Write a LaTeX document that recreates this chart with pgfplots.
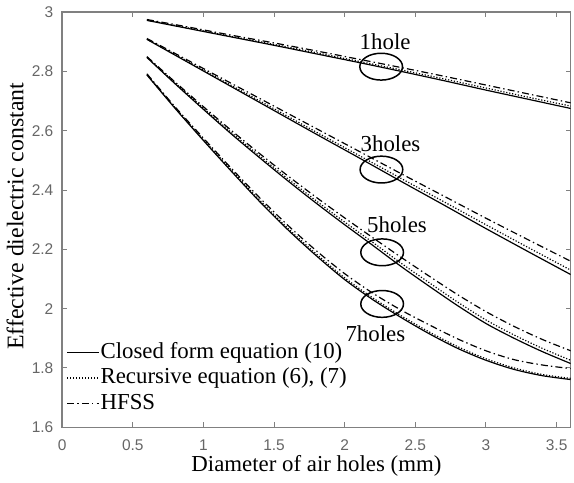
\documentclass[border=0pt]{standalone}
\usepackage{fontspec}
\setmainfont{Liberation Serif}
\newfontfamily\ticksfont{Liberation Sans}
\usepackage{pgfplots}
\pgfplotsset{compat=1.18}

\definecolor{axgray}{gray}{0.5}
\definecolor{tickgray}{gray}{0.4}

\tikzset{
  closed/.style={black, line width=0.6pt, smooth},
  recur/.style={black, line width=0.6pt, smooth, dash pattern=on 0.6pt off 0.9pt},
  hfss/.style={black, line width=0.6pt, smooth, dash pattern=on 3.5pt off 1.6pt on 0.7pt off 1.6pt},
}

\begin{document}
\begin{tikzpicture}
\begin{axis}[
  scale only axis,
  width=256pt, height=209pt,
  xmin=0, xmax=3.6, ymin=1.6, ymax=3,
  xtick={0,0.5,...,3.5},
  ytick={1.6,1.8,...,3.01},
  tick align=inside,
  major tick length=2.5pt,
  axis line style={axgray, line width=0.7pt},
  tick style={axgray, line width=0.5pt},
  /pgf/number format/assume math mode=true,
  tick label style={font=\ticksfont\fontsize{7.8}{9}\selectfont, text=tickgray},
  yticklabel style={xshift=-0.9pt},
  xticklabel style={yshift=-2.9pt},
  label style={font=\fontsize{11.5}{13}\selectfont},
  xlabel={Diameter of air holes (mm)},
  ylabel={Effective dielectric constant},
  xlabel style={at={(axis description cs:0.5,-0.1053)}, anchor=base},
  ylabel style={at={(axis description cs:-0.0762,0.508)}, anchor=base, font=\fontsize{12}{14}\selectfont},
  legend cell align=left,
  legend style={draw=none, fill=none, at={(rel axis cs:0.008,0.213)}, anchor=north west,
    font=\fontsize{11.5}{13}\selectfont, row sep=0pt, inner sep=0pt,
    nodes={inner sep=0.5pt, text height=9pt, text depth=3pt}},
  legend image code/.code={\draw[#1] (0pt,0pt) -- (16pt,0pt);},
]

% 1 hole
\addplot[closed] coordinates {(0.6,2.972) (0.9,2.944) (1.2,2.916) (1.5,2.888) (1.8,2.859) (2.1,2.830) (2.4,2.800) (2.7,2.769) (3.0,2.737) (3.3,2.706) (3.6,2.675)};
\addlegendentry{Closed form equation (10)}
\addplot[recur] coordinates {(0.6,2.973) (0.9,2.946) (1.2,2.918) (1.5,2.891) (1.8,2.863) (2.1,2.834) (2.4,2.805) (2.7,2.775) (3.0,2.744) (3.3,2.713) (3.6,2.683)};
\addlegendentry{Recursive equation (6), (7)}
\addplot[hfss] coordinates {(0.6,2.975) (0.9,2.949) (1.2,2.922) (1.5,2.896) (1.8,2.869) (2.1,2.841) (2.4,2.813) (2.7,2.784) (3.0,2.754) (3.3,2.724) (3.6,2.694)};
\addlegendentry{HFSS}

% 3 holes
\addplot[closed, forget plot] coordinates {(0.6,2.908) (0.9,2.828) (1.2,2.748) (1.5,2.668) (1.8,2.588) (2.1,2.509) (2.4,2.429) (2.7,2.350) (3.0,2.270) (3.3,2.192) (3.6,2.115)};
\addplot[recur, forget plot] coordinates {(0.6,2.909) (0.9,2.831) (1.2,2.752) (1.5,2.674) (1.8,2.595) (2.1,2.517) (2.4,2.439) (2.7,2.361) (3.0,2.283) (3.3,2.206) (3.6,2.130)};
\addplot[hfss, forget plot] coordinates {(0.6,2.911) (0.9,2.835) (1.2,2.759) (1.5,2.683) (1.8,2.607) (2.1,2.531) (2.4,2.455) (2.7,2.380) (3.0,2.305) (3.3,2.232) (3.6,2.160)};

% 5 holes
\addplot[closed, forget plot] coordinates {(0.6,2.847) (0.8,2.758) (1.0,2.672) (1.2,2.588) (1.4,2.508) (1.6,2.430) (1.8,2.355) (2.0,2.283) (2.2,2.213) (2.4,2.142) (2.6,2.075) (2.8,2.010) (3.0,1.950) (3.2,1.900) (3.4,1.855) (3.6,1.815)};
\addplot[recur, forget plot] coordinates {(0.6,2.848) (0.8,2.761) (1.0,2.676) (1.2,2.593) (1.4,2.514) (1.6,2.437) (1.8,2.363) (2.0,2.292) (2.2,2.223) (2.4,2.153) (2.6,2.087) (2.8,2.022) (3.0,1.962) (3.2,1.911) (3.4,1.866) (3.6,1.826)};
\addplot[hfss, forget plot] coordinates {(0.6,2.850) (0.8,2.764) (1.0,2.681) (1.2,2.600) (1.4,2.522) (1.6,2.447) (1.8,2.375) (2.0,2.306) (2.2,2.239) (2.4,2.173) (2.6,2.109) (2.8,2.047) (3.0,1.990) (3.2,1.940) (3.4,1.896) (3.6,1.858)};

% 7 holes
\addplot[closed, forget plot] coordinates {(0.6,2.788) (0.8,2.675) (1.0,2.567) (1.2,2.462) (1.4,2.360) (1.6,2.265) (1.8,2.178) (2.0,2.098) (2.2,2.030) (2.4,1.970) (2.6,1.915) (2.8,1.866) (3.0,1.826) (3.2,1.795) (3.4,1.774) (3.6,1.761)};
\addplot[recur, forget plot] coordinates {(0.6,2.789) (0.8,2.677) (1.0,2.570) (1.2,2.466) (1.4,2.365) (1.6,2.270) (1.8,2.184) (2.0,2.104) (2.2,2.036) (2.4,1.976) (2.6,1.921) (2.8,1.872) (3.0,1.831) (3.2,1.800) (3.4,1.778) (3.6,1.765)};
\addplot[hfss, forget plot] coordinates {(0.6,2.792) (0.8,2.680) (1.0,2.575) (1.2,2.472) (1.4,2.373) (1.6,2.280) (1.8,2.195) (2.0,2.118) (2.2,2.052) (2.4,1.995) (2.6,1.945) (2.8,1.898) (3.0,1.858) (3.2,1.828) (3.4,1.810) (3.6,1.798)};

% annotations
\draw[black, line width=0.75pt] (axis cs:2.258,2.816) ellipse [x radius=10.75pt, y radius=6.75pt];
\draw[black, line width=0.75pt] (axis cs:2.260,2.469) ellipse [x radius=10.75pt, y radius=6.75pt];
\draw[black, line width=0.75pt] (axis cs:2.265,2.190) ellipse [x radius=10.75pt, y radius=6.75pt];
\draw[black, line width=0.75pt] (axis cs:2.265,2.016) ellipse [x radius=10.75pt, y radius=6.75pt];
\node[anchor=base, inner sep=0pt, font=\fontsize{11.5}{13}\selectfont] at (axis cs:2.286,2.873) {1hole};
\node[anchor=base, inner sep=0pt, font=\fontsize{11.5}{13}\selectfont] at (axis cs:2.324,2.531) {3holes};
\node[anchor=base, inner sep=0pt, font=\fontsize{11.5}{13}\selectfont] at (axis cs:2.370,2.257) {5holes};
\node[anchor=base, inner sep=0pt, font=\fontsize{11.5}{13}\selectfont] at (axis cs:2.217,1.888) {7holes};
\end{axis}
\end{tikzpicture}
\end{document}
